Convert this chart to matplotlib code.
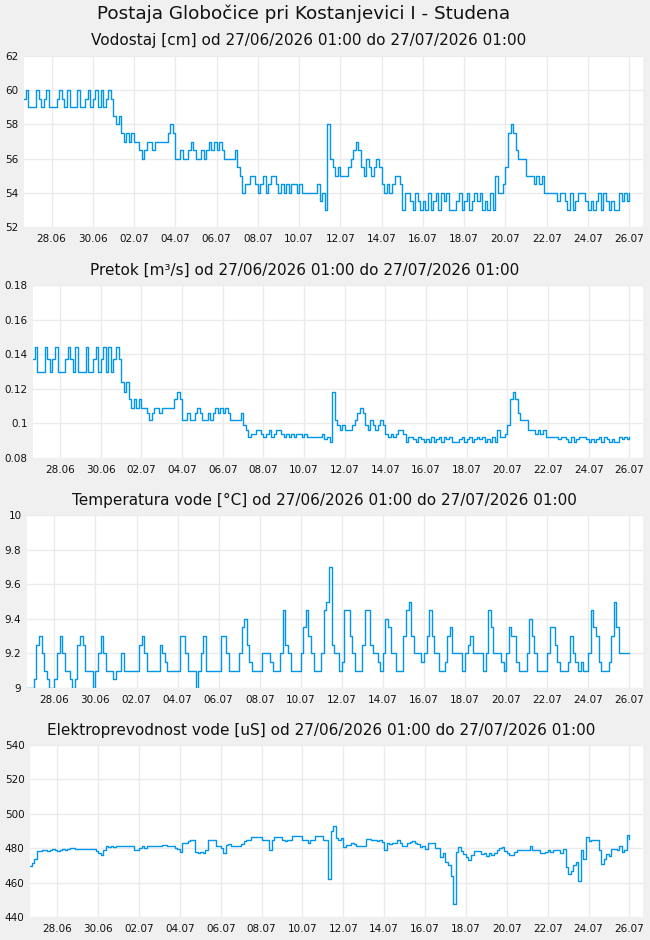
import datetime as dt
import matplotlib
matplotlib.use("Agg")
import matplotlib.pyplot as plt
import matplotlib.dates as mdates
import matplotlib.ticker as mticker

# 3-hourly readings, first row 26.06 15:00-21:00, then one row per day (00..21h)
start = dt.datetime(2026, 6, 26, 15)
step = dt.timedelta(hours=3)

level = [
    59.5, 60, 59,
    59, 59, 60, 59.5, 59, 59.5, 60, 59,
    59, 59, 59.5, 60, 59.5, 59, 60, 59,
    59, 59, 60, 59, 59, 59.5, 60, 59,
    59.5, 60, 59, 60, 59, 59.5, 60, 59.5,
    58.5, 58, 58.5, 57.5, 57, 57.5, 57, 57.5,
    57, 57, 56.5, 56, 56.5, 57, 57, 56.5,
    57, 57, 57, 57, 57, 57.5, 58, 57.5,
    56, 56, 56.5, 56, 56, 56.5, 57, 56.5,
    56, 56, 56.5, 56, 56.5, 57, 56.5, 57,
    56.5, 57, 56.5, 56, 56, 56, 56, 56.5,
    55.5, 55, 54, 54.5, 54.5, 55, 55, 54.5,
    54, 54.5, 55, 54, 54.5, 55, 55, 54.5,
    54, 54.5, 54, 54.5, 54, 54.5, 54.5, 54,
    54.5, 54, 54, 54, 54, 54, 54, 54.5,
    53.5, 54, 53, 58, 56, 55.5, 55, 55.5,
    55, 55, 55, 55.5, 56, 56.5, 57, 56.5,
    55.5, 55, 56, 55.5, 55, 55.5, 56, 55.5,
    54.5, 54, 54.5, 54, 54.5, 55, 55, 54.5,
    53, 54, 54, 53.5, 53, 54, 53.5, 53,
    53.5, 53, 54, 53, 53.5, 54, 53, 54,
    53.5, 54, 53, 53, 53, 53.5, 54, 53,
    53.5, 54, 53, 53.5, 54, 53.5, 54, 53,
    53.5, 53, 54, 53, 55, 54, 54, 54.5,
    55.5, 57.5, 58, 57.5, 56.5, 56, 56, 56,
    55, 55, 55, 54.5, 55, 54.5, 55, 54,
    54, 54, 54, 54, 53.5, 54, 54, 53.5,
    53, 54, 53, 53.5, 54, 54, 54, 53.5,
    53, 53.5, 53, 53.5, 54, 53, 54, 53.5,
    53, 53.5, 53, 53, 54, 53.5, 54, 53.5,
    54,
]

flow = [
    0.137, 0.144, 0.130,
    0.130, 0.130, 0.144, 0.137, 0.130, 0.137, 0.144, 0.130,
    0.130, 0.130, 0.137, 0.144, 0.137, 0.130, 0.144, 0.130,
    0.130, 0.130, 0.144, 0.130, 0.130, 0.137, 0.144, 0.130,
    0.137, 0.144, 0.130, 0.144, 0.130, 0.137, 0.144, 0.137,
    0.124, 0.118, 0.124, 0.114, 0.109, 0.114, 0.109, 0.114,
    0.109, 0.109, 0.106, 0.102, 0.106, 0.109, 0.109, 0.106,
    0.109, 0.109, 0.109, 0.109, 0.109, 0.114, 0.118, 0.114,
    0.102, 0.102, 0.106, 0.102, 0.102, 0.106, 0.109, 0.106,
    0.102, 0.102, 0.106, 0.102, 0.106, 0.109, 0.106, 0.109,
    0.106, 0.109, 0.106, 0.102, 0.102, 0.102, 0.102, 0.106,
    0.099, 0.096, 0.092, 0.094, 0.094, 0.096, 0.096, 0.094,
    0.092, 0.094, 0.096, 0.092, 0.094, 0.096, 0.096, 0.094,
    0.092, 0.094, 0.092, 0.094, 0.092, 0.094, 0.094, 0.092,
    0.094, 0.092, 0.092, 0.092, 0.092, 0.092, 0.092, 0.094,
    0.091, 0.092, 0.089, 0.118, 0.102, 0.099, 0.096, 0.099,
    0.096, 0.096, 0.096, 0.099, 0.102, 0.106, 0.109, 0.106,
    0.099, 0.096, 0.102, 0.099, 0.096, 0.099, 0.102, 0.099,
    0.094, 0.092, 0.094, 0.092, 0.094, 0.096, 0.096, 0.094,
    0.089, 0.092, 0.092, 0.091, 0.089, 0.092, 0.091, 0.089,
    0.091, 0.089, 0.092, 0.089, 0.091, 0.092, 0.089, 0.092,
    0.091, 0.092, 0.089, 0.089, 0.089, 0.091, 0.092, 0.089,
    0.091, 0.092, 0.089, 0.091, 0.092, 0.091, 0.092, 0.089,
    0.091, 0.089, 0.092, 0.089, 0.096, 0.092, 0.092, 0.094,
    0.099, 0.114, 0.118, 0.114, 0.106, 0.102, 0.102, 0.102,
    0.096, 0.096, 0.096, 0.094, 0.096, 0.094, 0.096, 0.092,
    0.092, 0.092, 0.092, 0.092, 0.091, 0.092, 0.092, 0.091,
    0.089, 0.092, 0.089, 0.091, 0.092, 0.092, 0.092, 0.091,
    0.089, 0.091, 0.089, 0.091, 0.092, 0.089, 0.092, 0.091,
    0.089, 0.091, 0.089, 0.089, 0.092, 0.091, 0.092, 0.091,
    0.092,
]

temp = [
    9.0, 9.0, 9.0,
    9.05, 9.25, 9.3, 9.2, 9.1, 9.05, 9.0, 9.0,
    9.05, 9.2, 9.3, 9.2, 9.1, 9.1, 9.05, 9.0,
    9.05, 9.25, 9.3, 9.25, 9.1, 9.1, 9.1, 9.0,
    9.1, 9.2, 9.3, 9.2, 9.1, 9.1, 9.1, 9.05,
    9.1, 9.1, 9.2, 9.1, 9.1, 9.1, 9.1, 9.1,
    9.1, 9.25, 9.3, 9.2, 9.1, 9.1, 9.1, 9.1,
    9.1, 9.25, 9.2, 9.15, 9.1, 9.1, 9.1, 9.1,
    9.1, 9.3, 9.3, 9.2, 9.1, 9.1, 9.1, 9.0,
    9.1, 9.2, 9.3, 9.1, 9.1, 9.1, 9.1, 9.1,
    9.1, 9.3, 9.3, 9.2, 9.1, 9.1, 9.1, 9.1,
    9.2, 9.35, 9.4, 9.25, 9.15, 9.1, 9.1, 9.1,
    9.1, 9.2, 9.2, 9.2, 9.15, 9.1, 9.1, 9.1,
    9.2, 9.45, 9.25, 9.2, 9.1, 9.1, 9.1, 9.1,
    9.2, 9.35, 9.45, 9.3, 9.2, 9.1, 9.1, 9.1,
    9.2, 9.45, 9.5, 9.7, 9.25, 9.2, 9.2, 9.1,
    9.15, 9.45, 9.45, 9.3, 9.2, 9.1, 9.1, 9.1,
    9.25, 9.45, 9.45, 9.25, 9.2, 9.2, 9.15, 9.1,
    9.2, 9.4, 9.35, 9.2, 9.2, 9.1, 9.1, 9.1,
    9.3, 9.45, 9.5, 9.3, 9.2, 9.2, 9.2, 9.15,
    9.2, 9.3, 9.45, 9.3, 9.2, 9.2, 9.1, 9.1,
    9.15, 9.3, 9.35, 9.2, 9.2, 9.2, 9.2, 9.1,
    9.2, 9.25, 9.3, 9.2, 9.2, 9.2, 9.2, 9.1,
    9.2, 9.45, 9.35, 9.2, 9.2, 9.2, 9.15, 9.1,
    9.2, 9.35, 9.3, 9.3, 9.15, 9.1, 9.1, 9.1,
    9.2, 9.4, 9.3, 9.2, 9.1, 9.1, 9.1, 9.1,
    9.2, 9.35, 9.35, 9.25, 9.15, 9.1, 9.1, 9.1,
    9.15, 9.3, 9.2, 9.15, 9.1, 9.15, 9.1, 9.1,
    9.2, 9.45, 9.35, 9.3, 9.15, 9.1, 9.1, 9.1,
    9.15, 9.3, 9.5, 9.35, 9.2, 9.2, 9.2, 9.2,
    9.2,
]

cond = [
    469.5, 471.5, 474,
    478.5, 478.5, 479, 479, 478.5, 479, 479.5, 479,
    478.5, 479, 479.5, 479, 479.5, 480, 480, 479.5,
    479.5, 479.5, 479.5, 479.5, 479.5, 479.5, 479.5, 478.5,
    477.5, 476, 479, 481, 480.5, 481, 480.5, 481,
    481, 481, 481.5, 481.5, 481.5, 481, 479, 479,
    480, 481, 480, 481.5, 481.5, 481.5, 481.5, 481.5,
    481.5, 482, 482, 481.5, 481.5, 481.5, 480, 479.5,
    478, 483, 483, 484, 484.5, 484.5, 478, 477.5,
    478, 477.5, 479, 484.5, 484.5, 484.5, 481.5, 481.5,
    480, 477, 482, 482.5, 481.5, 481.5, 481.5, 481,
    482.5, 484, 485, 485, 486.5, 486.5, 486.5, 486.5,
    485, 484.5, 484.5, 479, 485, 486.5, 486.5, 486.5,
    484.5, 484, 484.5, 484.5, 487, 487, 487, 487,
    484.5, 484.5, 483, 485, 484.5, 487, 487, 487,
    484.5, 485, 462, 490, 493, 486, 484.5, 486,
    480.5, 482, 482, 483, 482.5, 481.5, 481.5, 481.5,
    481, 485.5, 485.5, 485, 484.5, 484, 485, 483.5,
    479, 483, 482.5, 483, 483, 484.5, 483, 481,
    481, 483, 483.5, 484, 483, 482.5, 480.5, 481,
    479.5, 483, 483, 483, 480, 480, 475, 477,
    472, 470, 464, 447.5, 478, 480.5, 478.5, 476.5,
    475, 473, 476, 478.5, 478.5, 478.5, 476.5, 477,
    475.5, 477, 476, 477.5, 479, 480, 480.5, 478.5,
    477.5, 476, 476, 478, 479, 479, 479, 479,
    479, 481.5, 479, 479, 479, 477.5, 477.5, 478,
    479, 478, 479, 479, 479, 477, 479.5, 469,
    465, 466.5, 470, 472, 461, 479, 474, 486.5,
    484, 484.5, 485, 484.5, 479, 471, 474, 476.5,
    475.5, 479.5, 479.5, 479, 481, 478, 479, 487.5,
    485.5,
]

panels = [
    ("Vodostaj [cm] od 27/06/2026 01:00 do 27/07/2026 01:00", level,
     (52, 62), [52, 54, 56, 58, 60, 62], (24, 56, 227), 40, 309),
    ("Pretok [m³/s] od 27/06/2026 01:00 do 27/07/2026 01:00", flow,
     (0.08, 0.18), [0.08, 0.1, 0.12, 0.14, 0.16, 0.18], (33, 285, 458), 270, 305),
    ("Temperatura vode [°C] od 27/06/2026 01:00 do 27/07/2026 01:00", temp,
     (9, 10), [9, 9.2, 9.4, 9.6, 9.8, 10], (27, 515, 688), 500, 324),
    ("Elektroprevodnost vode [uS] od 27/06/2026 01:00 do 27/07/2026 01:00", cond,
     (440, 540), [440, 460, 480, 500, 520, 540], (30, 745, 917), 730, 321),
]

W, H = 650, 940
fig = plt.figure(figsize=(W / 100, H / 100), dpi=100, facecolor="#f0f0f0")
fig.text(304 / W, 1 - 14 / H, "Postaja Globočice pri Kostanjevici I - Studena",
         ha="center", va="center", fontsize=13.2, color="#111111")

x0 = dt.datetime(2026, 6, 26, 16)
x1 = x0 + dt.timedelta(days=30)
xticks = [dt.datetime(2026, 6, 28) + dt.timedelta(days=2 * i) for i in range(15)]

for title, vals, ylim, yticks, (left, top, bottom), ty, tx in panels:
    ax = fig.add_axes([left / W, 1 - bottom / H, (643 - left) / W, (bottom - top) / H])
    ax.set_facecolor("white")
    times = [start + i * step for i in range(len(vals))]
    ax.plot(times, vals, drawstyle="steps-post", color="#0096ef", lw=1.0)
    ax.set_xlim(x0, x1)
    ax.set_ylim(*ylim)
    ax.set_yticks(yticks)
    ax.yaxis.set_major_formatter(mticker.FormatStrFormatter("%g"))
    ax.set_xticks(xticks)
    ax.xaxis.set_major_formatter(mdates.DateFormatter("%d.%m"))
    ax.grid(True, color="#ebebeb", lw=1)
    ax.set_axisbelow(True)
    for s in ax.spines.values():
        s.set_visible(False)
    ax.tick_params(length=0, labelsize=7.5, colors="#111111")
    ax.tick_params(axis="y", pad=4)
    ax.tick_params(axis="x", pad=5)
    fig.text(tx / W, 1 - ty / H, title, ha="center", va="center",
             fontsize=11, color="#111111")

fig.savefig("out.png", dpi=100, facecolor=fig.get_facecolor())
